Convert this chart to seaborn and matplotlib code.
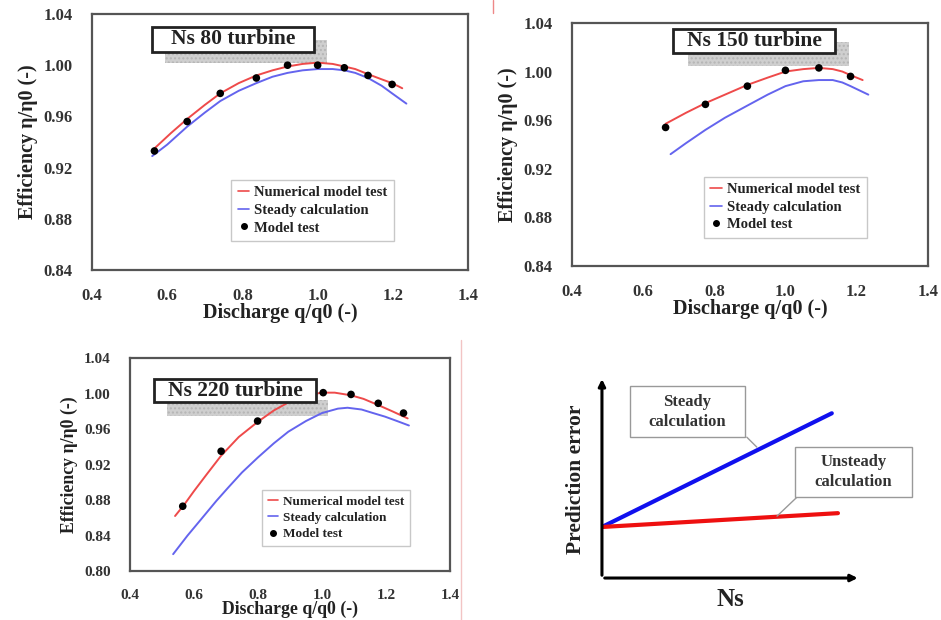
import pandas as pd
import seaborn as sns
import matplotlib.pyplot as plt
from matplotlib.patches import Rectangle
from matplotlib.lines import Line2D

# -------------------------------
# data
# -------------------------------
# Ns 80
ns80_test_q = [0.566, 0.653, 0.741, 0.837, 0.920, 1.000, 1.071, 1.134, 1.198]
ns80_test_eff = [0.933, 0.956, 0.978, 0.990, 1.000, 1.000, 0.998, 0.992, 0.985]
ns80_num_q = [0.566, 0.610, 0.653, 0.700, 0.741, 0.790, 0.837, 0.880, 0.920, 0.960, 1.000, 1.040,
              1.071, 1.100, 1.134, 1.170, 1.198, 1.225]
ns80_num_eff = [0.935, 0.947, 0.958, 0.969, 0.978, 0.986, 0.992, 0.996, 0.999, 1.001, 1.002, 1.001,
                0.999, 0.997, 0.993, 0.989, 0.986, 0.982]
ns80_std_q = [0.560, 0.600, 0.653, 0.700, 0.741, 0.790, 0.837, 0.880, 0.920, 0.960, 1.000, 1.040,
              1.071, 1.100, 1.134, 1.170, 1.198, 1.236]
ns80_std_eff = [0.929, 0.938, 0.952, 0.963, 0.972, 0.980, 0.986, 0.991, 0.994, 0.996, 0.997, 0.997,
                0.996, 0.994, 0.990, 0.984, 0.978, 0.970]

# Ns 150
ns150_test_q = [0.663, 0.775, 0.893, 1.000, 1.094, 1.183]
ns150_test_eff = [0.954, 0.973, 0.988, 1.001, 1.003, 0.996]
ns150_num_q = [0.663, 0.720, 0.775, 0.830, 0.893, 0.950, 1.000, 1.050, 1.094, 1.133, 1.160, 1.183, 1.217]
ns150_num_eff = [0.957, 0.966, 0.974, 0.981, 0.989, 0.995, 1.000, 1.002, 1.003, 1.002, 1.000, 0.997, 0.993]
ns150_std_q = [0.677, 0.720, 0.775, 0.830, 0.893, 0.950, 1.000, 1.050, 1.094, 1.133, 1.160, 1.183, 1.233]
ns150_std_eff = [0.932, 0.941, 0.952, 0.962, 0.972, 0.981, 0.988, 0.992, 0.993, 0.993, 0.991, 0.988, 0.981]

# Ns 220
ns220_test_q = [0.565, 0.685, 0.799, 1.004, 1.091, 1.176, 1.255]
ns220_test_eff = [0.873, 0.935, 0.969, 1.001, 0.999, 0.989, 0.978]
ns220_num_q = [0.541, 0.570, 0.600, 0.640, 0.685, 0.740, 0.799, 0.850, 0.900, 0.950, 1.000, 1.040,
               1.091, 1.130, 1.176, 1.220, 1.268]
ns220_num_eff = [0.862, 0.875, 0.890, 0.909, 0.930, 0.951, 0.968, 0.981, 0.991, 0.998, 1.001, 1.001,
                 0.998, 0.994, 0.987, 0.980, 0.972]
ns220_std_q = [0.535, 0.580, 0.624, 0.670, 0.707, 0.750, 0.800, 0.850, 0.895, 0.950, 1.000, 1.050,
               1.080, 1.124, 1.160, 1.197, 1.235, 1.272]
ns220_std_eff = [0.819, 0.840, 0.859, 0.879, 0.894, 0.911, 0.928, 0.944, 0.957, 0.969, 0.978, 0.983,
                 0.984, 0.982, 0.978, 0.974, 0.969, 0.964]

# schematic: prediction error vs Ns
ns_steady = [0.0, 0.898]
err_steady = [0.258, 0.833]
ns_unsteady = [0.0, 0.922]
err_unsteady = [0.258, 0.328]

panels = [
    ("Ns 80 turbine", ns80_test_q, ns80_test_eff, ns80_num_q, ns80_num_eff, ns80_std_q, ns80_std_eff),
    ("Ns 150 turbine", ns150_test_q, ns150_test_eff, ns150_num_q, ns150_num_eff, ns150_std_q, ns150_std_eff),
    ("Ns 220 turbine", ns220_test_q, ns220_test_eff, ns220_num_q, ns220_num_eff, ns220_std_q, ns220_std_eff),
]

sns.set_style("white")
plt.rcParams["font.family"] = ["Liberation Serif", "DejaVu Serif"]
plt.rcParams["font.weight"] = "bold"
plt.rcParams["axes.labelweight"] = "bold"

RED = "#ee4a4a"
BLUE = "#6464ee"

fig = plt.figure(figsize=(9.41, 6.2), dpi=100)

# axes rect, title box, shadow box, legend anchor, ylim, font sizes
layout = [
    dict(rect=[0.0978, 0.5645, 0.3996, 0.4129], box=(0.16, 0.852, 0.43, 0.097),
         shadow=(0.194, 0.809, 0.431, 0.089), leg=(0.37, 0.113), ylim=(0.84, 1.04),
         tick=12, lab=14.5, ttl=15.5, legfs=10.5),
    dict(rect=[0.6079, 0.571, 0.378, 0.392], box=(0.285, 0.877, 0.455, 0.098),
         shadow=(0.325, 0.823, 0.455, 0.099), leg=(0.37, 0.115), ylim=(0.84, 1.04),
         tick=12, lab=14.5, ttl=15.5, legfs=10.5),
    dict(rect=[0.1381, 0.079, 0.340, 0.3435], box=(0.075, 0.793, 0.506, 0.108),
         shadow=(0.116, 0.728, 0.503, 0.075), leg=(0.4125, 0.117), ylim=(0.80, 1.04),
         tick=11, lab=12.8, ttl=15.5, legfs=9.5),
]

for (title, tq, te, nq, ne, sq, se), lay in zip(panels, layout):
    ax = fig.add_axes(lay["rect"])
    ax.add_patch(Rectangle(lay["shadow"][:2], lay["shadow"][2], lay["shadow"][3],
                           transform=ax.transAxes, facecolor="#cfcfcf", edgecolor="#b5b5b5",
                           hatch="....", linewidth=0, zorder=1))
    sns.lineplot(x=nq, y=ne, ax=ax, color=RED, linewidth=1.4, zorder=3)
    sns.lineplot(x=sq, y=se, ax=ax, color=BLUE, linewidth=1.4, zorder=3)
    sns.scatterplot(x=tq, y=te, ax=ax, color="black", s=30, edgecolor="none", zorder=4)

    ax.add_patch(Rectangle(lay["box"][:2], lay["box"][2], lay["box"][3],
                           transform=ax.transAxes, facecolor="white", edgecolor="#222222",
                           linewidth=2, zorder=5))
    ax.text(lay["box"][0] + lay["box"][2] / 2, lay["box"][1] + lay["box"][3] / 2, title,
            transform=ax.transAxes, ha="center", va="center", fontsize=lay["ttl"],
            fontweight="bold", color="#222222", zorder=6)

    ax.set_xlim(0.4, 1.4)
    ax.set_ylim(*lay["ylim"])
    ax.set_xticks([0.4, 0.6, 0.8, 1.0, 1.2, 1.4])
    ax.set_xticklabels(["0.4", "0.6", "0.8", "1.0", "1.2", "1.4"])
    yt = [round(lay["ylim"][0] + 0.04 * i, 2) for i in range(int(round((lay["ylim"][1] - lay["ylim"][0]) / 0.04)) + 1)]
    ax.set_yticks(yt)
    ax.set_yticklabels([f"{v:.2f}" for v in yt])
    ax.tick_params(axis="both", direction="in", length=3, width=1, color="#888888",
                   labelsize=lay["tick"], labelcolor="#333333", pad=13)
    ax.tick_params(axis="y", length=0, pad=14)
    for sp in ax.spines.values():
        sp.set_color("#555555")
        sp.set_linewidth(1.6)
    ax.set_xlabel("Discharge q/q0 (-)", fontsize=lay["lab"], color="#222222", labelpad=-1)
    ax.set_ylabel("Efficiency η/η0 (-)", fontsize=lay["lab"], color="#222222", labelpad=4)

    handles = [
        Line2D([], [], color=RED, lw=1.2),
        Line2D([], [], color=BLUE, lw=1.2),
        Line2D([], [], color="black", marker="o", ms=4, lw=0),
    ]
    leg = ax.legend(handles, ["Numerical model test", "Steady calculation", "Model test"],
                    loc="lower left", bbox_to_anchor=lay["leg"], frameon=True, fancybox=False,
                    fontsize=lay["legfs"], handlelength=0.8, handletextpad=0.35, borderpad=0.45,
                    labelspacing=0.3, borderaxespad=0)
    leg.get_frame().set_edgecolor("#bbbbbb")
    leg.get_frame().set_linewidth(1)
    for t in leg.get_texts():
        t.set_color("#222222")

# schematic panel
ax4 = fig.add_axes([0.6397, 0.0677, 0.272, 0.319])
ax4.set_xlim(0, 1)
ax4.set_ylim(0, 1)
ax4.axis("off")
ax4.annotate("", xy=(0, 1.02), xytext=(0, 0), xycoords="axes fraction",
             arrowprops=dict(arrowstyle="-|>", lw=2.2, color="black", mutation_scale=10))
ax4.annotate("", xy=(1.01, 0), xytext=(0, 0), xycoords="axes fraction",
             arrowprops=dict(arrowstyle="-|>", lw=2.2, color="black", mutation_scale=10))
sns.lineplot(x=ns_steady, y=err_steady, ax=ax4, color="#1010ee", linewidth=3)
sns.lineplot(x=ns_unsteady, y=err_unsteady, ax=ax4, color="#ee1010", linewidth=3)

ax4.plot([0.566, 0.605], [0.712, 0.662], color="#999999", lw=1, clip_on=False)
ax4.plot([0.762, 0.684], [0.409, 0.313], color="#999999", lw=1, clip_on=False)
ax4.add_patch(Rectangle((0.109, 0.712), 0.45, 0.258, facecolor="white", edgecolor="#999999",
                        lw=1, clip_on=False, zorder=5))
ax4.text(0.334, 0.841, "Steady\ncalculation", ha="center", va="center", fontsize=12,
         linespacing=1.35, color="#333333", zorder=6)
ax4.add_patch(Rectangle((0.754, 0.409), 0.457, 0.253, facecolor="white", edgecolor="#999999",
                        lw=1, clip_on=False, zorder=5))
ax4.text(0.982, 0.535, "Unsteady\ncalculation", ha="center", va="center", fontsize=12,
         linespacing=1.35, color="#333333", zorder=6)
ax4.text(-0.1, 0.5, "Prediction error", rotation=90, ha="center", va="center",
         fontsize=15.5, color="#222222")
ax4.text(0.5, -0.11, "Ns", ha="center", va="center", fontsize=18, color="#222222")

# faint separator marks
fig.add_artist(Line2D([461 / 941, 461 / 941], [0, 280 / 620], color="#f2c4c4", lw=1))
fig.add_artist(Line2D([493 / 941, 493 / 941], [607 / 620, 1], color="#ee8888", lw=1))

fig.savefig("out.png", dpi=100)
plt.close()
